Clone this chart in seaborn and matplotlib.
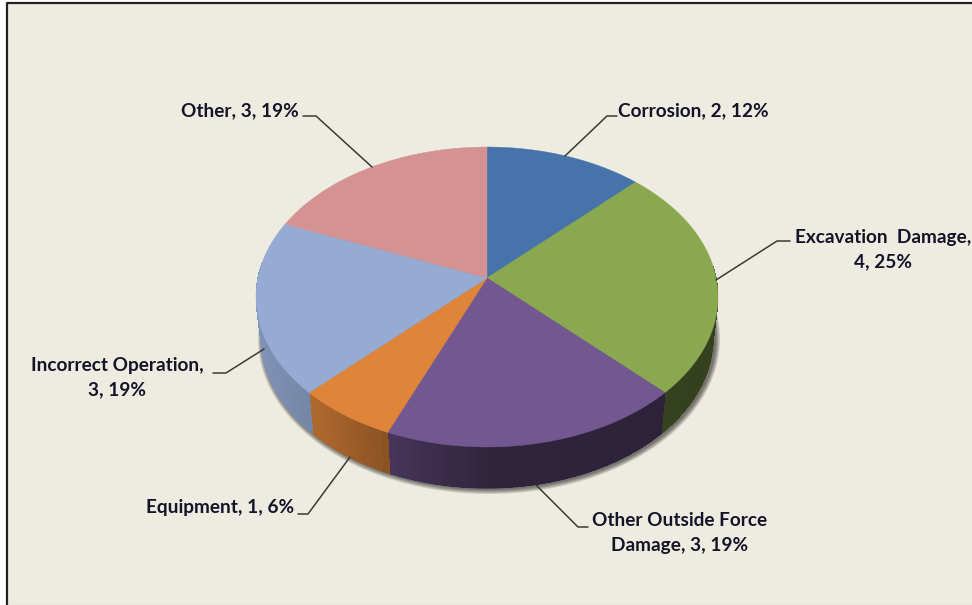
import numpy as np
import matplotlib
matplotlib.use("Agg")
import matplotlib.pyplot as plt
import seaborn as sns

categories = ['Corrosion', 'Excavation Damage', 'Other Outside Force Damage',
              'Equipment', 'Incorrect Operation', 'Other']
values = [2, 4, 3, 1, 3, 3]
label_texts = ['Corrosion, 2, 12%', 'Excavation  Damage,\n4, 25%',
               'Other Outside Force\nDamage, 3, 19%', 'Equipment, 1, 6%',
               'Incorrect Operation,\n3, 19%', 'Other, 3, 19%']
slice_colors = ['#4674AA', '#8AA84F', '#735791', '#DE853A', '#95ABD3', '#D49392']

sns.set_theme(style='white')
plt.rcParams['font.family'] = ['Lato', 'DejaVu Sans']
palette = sns.color_palette(slice_colors)

fig = plt.figure(figsize=(9.72, 6.05), dpi=100, facecolor='white')
ax = fig.add_axes([0, 0, 1, 1])
ax.set_xlim(0, 972)
ax.set_ylim(605, 0)
ax.axis('off')

# background and the frame of the pasted chart
ax.fill([7, 972, 972, 7], [3, 3, 605, 605], color='#EEEBE0', zorder=0, lw=0)
ax.plot([7, 7, 972], [605, 3, 3], color='#222222', lw=1.6, zorder=1)
ax.plot([7, 972], [604.5, 604.5], color='#D8D8D0', lw=1, zorder=1)

# pie geometry
cx, cy, rx, ry = 487, 297, 231, 150
tilt = 0.127           # moves the apex up, gives the perspective look
depth = 41
rx_low = 226


def rim(ang):
    # ang in radians, clockwise from 12 o'clock
    u, v = np.sin(ang), np.cos(ang)
    d = 1 + tilt * v
    return u * np.sqrt(1 - tilt ** 2) / d, (v + tilt) / d


def shade(u):
    return np.interp(u, [-1, -0.7, -0.4, 0, 1], [0.86, 0.76, 0.6, 0.42, 0.38])


# soft shadow under the pie
t = np.linspace(0, 2 * np.pi, 200)
for grow in [5, 4, 3, 2, 1]:
    ax.fill(cx + 2 + (rx_low + grow) * np.cos(t), cy + depth + 1 + (ry + grow) * np.sin(t),
            color='#000000', alpha=0.13, lw=0, zorder=2)

edges = np.cumsum([0] + values) / sum(values) * 2 * np.pi

# side wall, thin strips so it gets a gradient
for i in range(len(values)):
    a = np.linspace(edges[i], edges[i + 1], int(values[i] * 12) + 2)
    u, v = rim(a)
    for j in range(len(a) - 1):
        if v[j] > 0.2 and v[j + 1] > 0.2:
            continue
        x_top = cx + rx * u[j:j + 2]
        y_top = cy - ry * v[j:j + 2]
        x_low = cx + rx_low * u[j:j + 2]
        y_low = cy + depth - ry * v[j:j + 2]
        col = tuple(np.array(palette[i]) * shade(u[j:j + 2].mean()))
        ax.fill(np.r_[x_top, x_low[::-1]], np.r_[y_top, y_low[::-1]],
                color=col, lw=0, antialiased=False, zorder=3)
        ax.plot(x_low, y_low, color=col, lw=0.8, zorder=3)

# top face
for i in range(len(values)):
    a = np.linspace(edges[i], edges[i + 1], 80)
    u, v = rim(a)
    ax.fill(np.r_[cx, cx + rx * u], np.r_[cy - ry * tilt, cy - ry * v],
            color=palette[i], ec=palette[i], lw=0.3, zorder=4)

# leader lines
leaders = [([565, 607, 617], [156, 116, 116]),
           ([716, 777, 790], [280, 241, 241]),
           ([536, 578, 588], [485, 527, 527]),
           ([350, 308, 298], [457, 514, 514]),
           ([264, 226, 213], [349, 373, 373]),
           ([372, 316, 303], [167, 116, 116])]
for lx, ly in leaders:
    ax.plot(lx, ly, color='#3A3A3A', lw=1.1, zorder=5)

# labels
spots = [(618, 111, 'left'), (883, 250, 'center'), (680, 533, 'center'),
         (294, 507, 'right'), (117, 378, 'center'), (299, 111, 'right')]
for txt, (tx, ty, ha) in zip(label_texts, spots):
    ax.text(tx, ty, txt, ha=ha, va='center', ma='center', fontsize=13.7,
            fontweight='bold', color='#141428', linespacing=1.5, zorder=6)

fig.savefig('out.png', dpi=100, facecolor=fig.get_facecolor())
